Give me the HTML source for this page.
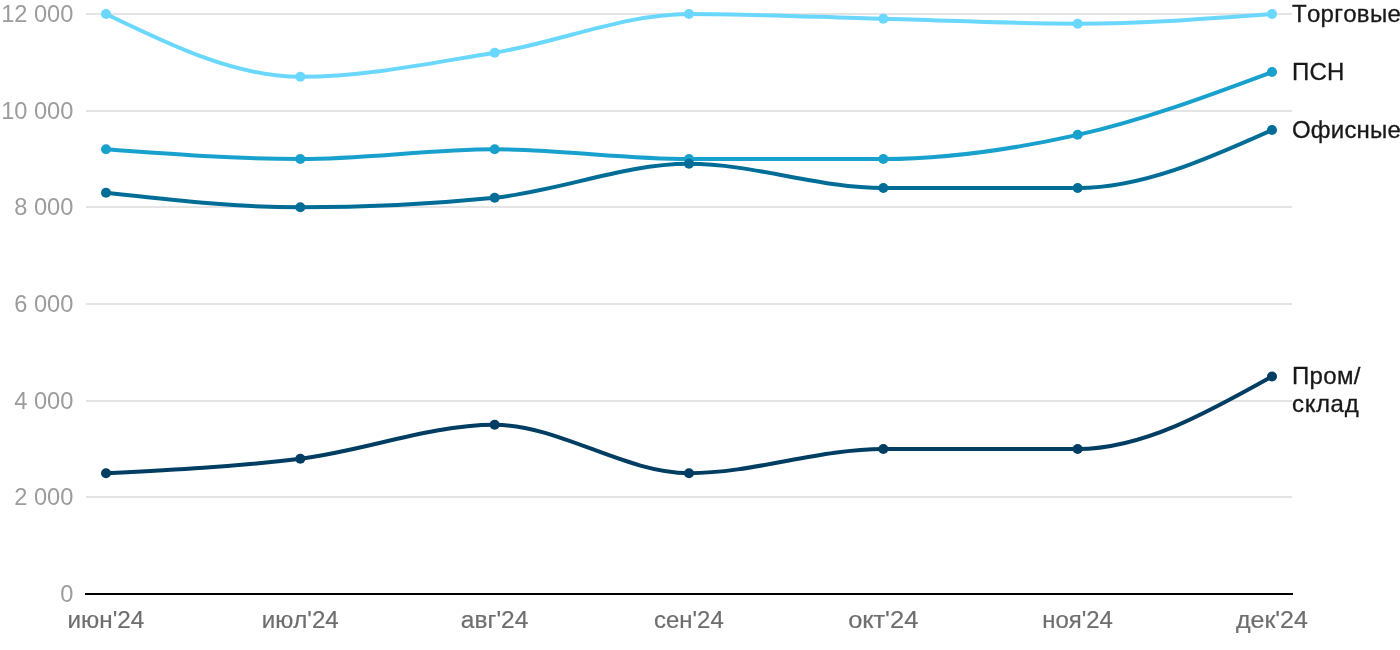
<!DOCTYPE html>
<html lang="ru"><head><meta charset="utf-8"><title>Chart</title>
<style>
html,body{margin:0;padding:0;background:#fff;}
body{width:1400px;height:650px;overflow:hidden;}
svg{display:block;font-family:"Liberation Sans",sans-serif;font-kerning:none;font-feature-settings:"kern" 0;}
.yt{font-size:24px;fill:#9c9c9c;text-anchor:end;}
.xt{font-size:24px;fill:#6e6e6e;text-anchor:middle;stroke:#6e6e6e;stroke-width:0.2px;}
.sl{font-size:24px;fill:#181818;stroke:#181818;stroke-width:0.3px;}
.grid line{stroke:#e4e4e4;stroke-width:2;}
.ln{fill:none;stroke-width:4;stroke-linecap:round;stroke-linejoin:round;}
</style></head><body>
<svg width="1400" height="650" viewBox="0 0 1400 650">
<rect width="1400" height="650" fill="#ffffff"/>
<g class="grid">
<line x1="86" x2="1292" y1="497" y2="497"/>
<line x1="86" x2="1292" y1="401" y2="401"/>
<line x1="86" x2="1292" y1="304" y2="304"/>
<line x1="86" x2="1292" y1="207" y2="207"/>
<line x1="86" x2="1292" y1="111" y2="111"/>
<line x1="86" x2="1292" y1="14" y2="14"/>
</g>
<line x1="85" x2="1293" y1="594" y2="594" stroke="#000" stroke-width="2.15"/>
<g>
<text class="yt" transform="translate(73.4,602.30) scale(0.985,1.035)">0</text>
<text class="yt" transform="translate(73.4,505.30) scale(0.985,1.035)">2 000</text>
<text class="yt" transform="translate(73.4,409.30) scale(0.985,1.035)">4 000</text>
<text class="yt" transform="translate(73.4,312.30) scale(0.985,1.035)">6 000</text>
<text class="yt" transform="translate(73.4,215.30) scale(0.985,1.035)">8 000</text>
<text class="yt" transform="translate(73.4,119.30) scale(0.985,1.035)">10 000</text>
<text class="yt" transform="translate(73.4,22.30) scale(0.985,1.035)">12 000</text>
</g><g>
<text class="xt" transform="translate(105.90,628) scale(1.012,1.025)">июн'24</text>
<text class="xt" transform="translate(300.23,628) scale(1.005,1.025)">июл'24</text>
<text class="xt" transform="translate(494.57,628) scale(1.02,1.025)">авг'24</text>
<text class="xt" transform="translate(688.90,628) scale(0.998,1.025)">сен'24</text>
<text class="xt" transform="translate(883.23,628) scale(1.062,1.025)">окт'24</text>
<text class="xt" transform="translate(1077.57,628) scale(0.998,1.025)">ноя'24</text>
<text class="xt" transform="translate(1271.90,628) scale(1.042,1.025)">дек'24</text>
</g>
<g><path class="ln" stroke="#6ad7fd" d="M106.00,14.00C170.78,45.42,235.56,76.83,300.33,76.83C365.11,76.83,429.89,63.14,494.67,52.67C559.44,42.19,624.22,14.00,689.00,14.00C753.78,14.00,818.56,17.22,883.33,18.83C948.11,20.44,1012.89,23.67,1077.67,23.67C1142.44,23.67,1207.22,18.83,1272.00,14.00"/>
<circle cx="106.00" cy="14.00" r="5" fill="#6ad7fd"/>
<circle cx="300.33" cy="76.83" r="5" fill="#6ad7fd"/>
<circle cx="494.67" cy="52.67" r="5" fill="#6ad7fd"/>
<circle cx="689.00" cy="14.00" r="5" fill="#6ad7fd"/>
<circle cx="883.33" cy="18.83" r="5" fill="#6ad7fd"/>
<circle cx="1077.67" cy="23.67" r="5" fill="#6ad7fd"/>
<circle cx="1272.00" cy="14.00" r="5" fill="#6ad7fd"/>
</g>
<g><path class="ln" stroke="#18a1cd" d="M106.00,149.33C170.78,154.17,235.56,159.00,300.33,159.00C365.11,159.00,429.89,149.33,494.67,149.33C559.44,149.33,624.22,159.00,689.00,159.00C753.78,159.00,818.56,159.00,883.33,159.00C948.11,159.00,1012.89,149.33,1077.67,134.83C1142.44,120.33,1207.22,96.17,1272.00,72.00"/>
<circle cx="106.00" cy="149.33" r="5" fill="#18a1cd"/>
<circle cx="300.33" cy="159.00" r="5" fill="#18a1cd"/>
<circle cx="494.67" cy="149.33" r="5" fill="#18a1cd"/>
<circle cx="689.00" cy="159.00" r="5" fill="#18a1cd"/>
<circle cx="883.33" cy="159.00" r="5" fill="#18a1cd"/>
<circle cx="1077.67" cy="134.83" r="5" fill="#18a1cd"/>
<circle cx="1272.00" cy="72.00" r="5" fill="#18a1cd"/>
</g>
<g><path class="ln" stroke="#006d97" d="M106.00,192.83C170.78,200.08,235.56,207.33,300.33,207.33C365.11,207.33,429.89,204.11,494.67,197.67C559.44,191.22,624.22,163.83,689.00,163.83C753.78,163.83,818.56,188.00,883.33,188.00C948.11,188.00,1012.89,188.00,1077.67,188.00C1142.44,188.00,1207.22,159.00,1272.00,130.00"/>
<circle cx="106.00" cy="192.83" r="5" fill="#006d97"/>
<circle cx="300.33" cy="207.33" r="5" fill="#006d97"/>
<circle cx="494.67" cy="197.67" r="5" fill="#006d97"/>
<circle cx="689.00" cy="163.83" r="5" fill="#006d97"/>
<circle cx="883.33" cy="188.00" r="5" fill="#006d97"/>
<circle cx="1077.67" cy="188.00" r="5" fill="#006d97"/>
<circle cx="1272.00" cy="130.00" r="5" fill="#006d97"/>
</g>
<g><path class="ln" stroke="#003d62" d="M106.00,473.17C170.78,469.94,235.56,466.72,300.33,458.67C365.11,450.61,429.89,424.83,494.67,424.83C559.44,424.83,624.22,473.17,689.00,473.17C753.78,473.17,818.56,449.00,883.33,449.00C948.11,449.00,1012.89,449.00,1077.67,449.00C1142.44,449.00,1207.22,412.75,1272.00,376.50"/>
<circle cx="106.00" cy="473.17" r="5" fill="#003d62"/>
<circle cx="300.33" cy="458.67" r="5" fill="#003d62"/>
<circle cx="494.67" cy="424.83" r="5" fill="#003d62"/>
<circle cx="689.00" cy="473.17" r="5" fill="#003d62"/>
<circle cx="883.33" cy="449.00" r="5" fill="#003d62"/>
<circle cx="1077.67" cy="449.00" r="5" fill="#003d62"/>
<circle cx="1272.00" cy="376.50" r="5" fill="#003d62"/>
</g>
<g>
<text class="sl" x="1292" y="21.80" letter-spacing="0.28">Торговые</text>
<text class="sl" x="1292" y="79.80" letter-spacing="0.2">ПСН</text>
<text class="sl" x="1292" y="137.80" letter-spacing="0.2">Офисные</text>
<text class="sl" x="1292" y="384.30" letter-spacing="0.35">Пром/</text>
<text class="sl" x="1292" y="412.00" letter-spacing="0.7">склад</text>
</g></svg></body></html>
